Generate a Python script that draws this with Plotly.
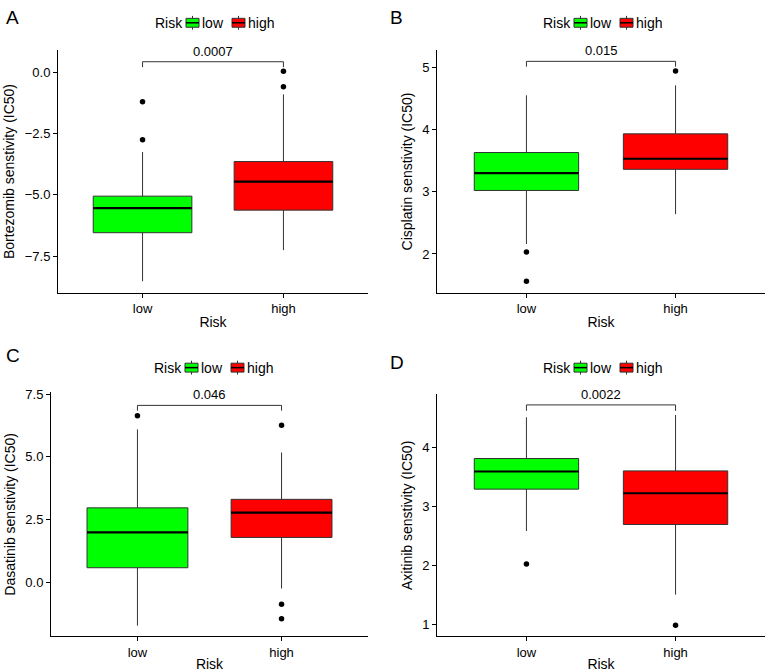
import plotly.graph_objects as go

# categories and colours
groups = ["low", "high"]
group_colors = {"low": "#00FF00", "high": "#FF0000"}

# panel labels / drugs
panel_letters = ["A", "B", "C", "D"]
drugs = ["Bortezomib", "Cisplatin", "Dasatinib", "Axitinib"]
p_values = ["0.0007", "0.015", "0.046", "0.0022"]

# box statistics per panel: [low, high]
q1 = [[-6.54, -5.62], [3.02, 3.36], [0.57, 1.78], [3.29, 2.69]]
median = [[-5.54, -4.46], [3.30, 3.53], [1.98, 2.77], [3.59, 3.22]]
q3 = [[-5.05, -3.64], [3.63, 3.93], [2.96, 3.30], [3.81, 3.60]]
lower_whisker = [[-8.52, -7.25], [2.16, 2.64], [-1.74, -0.26], [2.58, 1.50]]
upper_whisker = [[-3.25, -0.90], [4.55, 4.71], [6.09, 5.17], [4.51, 4.55]]

# outliers per panel: [low, high]
outliers = [
    [[-2.75, -1.20], [-0.59, 0.04]],
    [[2.03, 1.56], [4.94]],
    [[6.64], [6.26, -0.89, -1.47]],
    [[2.02], [0.98]],
]

# significance bracket (bar height, tick end)
bracket_top = [0.43, 5.095, 7.05, 4.72]
bracket_end = [0.21, 5.01, 6.84, 4.62]

# axis setup
y_ranges = [[-8.98, 0.89], [1.38, 5.27], [-2.17, 7.57], [0.79, 4.90]]
y_ticks = [[-7.5, -5.0, -2.5, 0.0], [2, 3, 4, 5], [0.0, 2.5, 5.0, 7.5], [1, 2, 3, 4]]
y_tickformat = [".1f", "d", ".1f", "d"]

W, H = 768, 672
# pixel boxes of each plot area: (left, right, top, bottom)
plot_px = [
    (58, 368, 45, 290),
    (437, 765, 45, 290),
    (51, 368, 391, 638),
    (437, 765, 393, 638),
]
letter_px = [(4, 12), (388, 12), (4, 354), (388, 361)]
legend_px = [(153, 17), (541, 17), (152, 366), (541, 366)]

FONT = "Liberation Sans, Arial, Helvetica, sans-serif"
BOX_W = 0.7

fig = go.Figure()
shapes = []
annotations = []

for i in range(4):
    sfx = "" if i == 0 else str(i + 1)
    xa, ya = "x" + sfx, "y" + sfx

    for j, g in enumerate(groups):
        pos = j + 1
        fig.add_trace(go.Box(
            x=[pos], q1=[q1[i][j]], median=[median[i][j]], q3=[q3[i][j]],
            lowerfence=[lower_whisker[i][j]], upperfence=[upper_whisker[i][j]],
            width=BOX_W, whiskerwidth=0, boxpoints=False,
            fillcolor=group_colors[g], line=dict(color="#333333", width=1),
            showlegend=False, hoverinfo="skip", xaxis=xa, yaxis=ya,
        ))
        # thicker median line like ggplot
        fig.add_trace(go.Scatter(
            x=[pos - BOX_W / 2, pos + BOX_W / 2], y=[median[i][j]] * 2,
            mode="lines", line=dict(color="black", width=2.2),
            showlegend=False, hoverinfo="skip", xaxis=xa, yaxis=ya,
        ))
        fig.add_trace(go.Scatter(
            x=[pos] * len(outliers[i][j]), y=outliers[i][j], mode="markers",
            marker=dict(color="black", size=5.5),
            showlegend=False, hoverinfo="skip", xaxis=xa, yaxis=ya,
        ))

    # bracket
    fig.add_trace(go.Scatter(
        x=[1, 1, 2, 2], y=[bracket_end[i], bracket_top[i], bracket_top[i], bracket_end[i]],
        mode="lines", line=dict(color="#333333", width=1),
        showlegend=False, hoverinfo="skip", xaxis=xa, yaxis=ya,
    ))
    annotations.append(dict(
        x=1.5, y=bracket_top[i], xref=xa, yref=ya, text=p_values[i],
        showarrow=False, yanchor="bottom", yshift=1,
        font=dict(size=13, color="black", family=FONT),
    ))

    l, r, t, b = plot_px[i]
    fig.update_layout(**{
        "xaxis" + sfx: dict(
            domain=[l / W, r / W], anchor=ya, range=[0.4, 2.6],
            tickvals=[1, 2], ticktext=groups, showgrid=False, zeroline=False,
            showline=True, linecolor="black", linewidth=1,
            ticks="outside", ticklen=4, tickcolor="black",
            tickfont=dict(size=13, color="black", family=FONT),
            title=dict(text="Risk", standoff=2, font=dict(size=14, color="black", family=FONT)),
        ),
        "yaxis" + sfx: dict(
            domain=[1 - b / H, 1 - t / H], anchor=xa, range=y_ranges[i],
            tickvals=y_ticks[i], tickformat=y_tickformat[i],
            showgrid=False, zeroline=False,
            showline=True, linecolor="black", linewidth=1,
            ticks="outside", ticklen=4, tickcolor="black",
            tickfont=dict(size=13, color="black", family=FONT),
            title=dict(text=drugs[i] + " senstivity (IC50)", standoff=6,
                       font=dict(size=14, color="black", family=FONT)),
        ),
    })

    # panel letter
    lx, ly = letter_px[i]
    annotations.append(dict(
        x=lx / W, y=1 - ly / H, xref="paper", yref="paper", text=panel_letters[i],
        showarrow=False, xanchor="left", yanchor="middle",
        font=dict(size=19, color="black", family=FONT),
    ))

    # legend drawn by hand (ggplot style keys)
    gx, gy = legend_px[i]
    annotations.append(dict(
        x=gx / W, y=1 - gy / H, xref="paper", yref="paper", text="Risk",
        showarrow=False, xanchor="left", yanchor="middle",
        font=dict(size=14, color="black", family=FONT),
    ))
    kx = gx + 33
    for g, label_w in zip(groups, [32, 0]):
        shapes.append(dict(type="line", xref="paper", yref="paper",
                           x0=(kx + 6.5) / W, x1=(kx + 6.5) / W,
                           y0=1 - (gy - 7) / H, y1=1 - (gy + 7) / H,
                           line=dict(color="#333333", width=1)))
        shapes.append(dict(type="rect", xref="paper", yref="paper",
                           x0=kx / W, x1=(kx + 13) / W,
                           y0=1 - (gy - 4.5) / H, y1=1 - (gy + 4.5) / H,
                           fillcolor=group_colors[g], line=dict(color="#333333", width=1)))
        shapes.append(dict(type="line", xref="paper", yref="paper",
                           x0=kx / W, x1=(kx + 13) / W,
                           y0=1 - gy / H, y1=1 - gy / H,
                           line=dict(color="black", width=1.5)))
        annotations.append(dict(
            x=(kx + 14) / W, y=1 - gy / H, xref="paper", yref="paper", text=g,
            showarrow=False, xanchor="left", yanchor="middle",
            font=dict(size=14, color="black", family=FONT),
        ))
        kx += 14 + label_w

fig.update_layout(
    width=W, height=H,
    margin=dict(l=0, r=0, t=0, b=0),
    paper_bgcolor="white", plot_bgcolor="white",
    font=dict(family=FONT, color="black"),
    shapes=shapes, annotations=annotations,
    showlegend=False,
)

# pin the figure to the window's top-left corner (no page margin)
pin = (
    "document.body.style.margin='0';document.body.style.overflow='hidden';"
    "var gd=document.getElementById('{plot_id}');"
    "gd.style.position='absolute';gd.style.top='0px';gd.style.left='0px';"
)
fig.write_html("out.html", config={"displayModeBar": False}, post_script=pin)
